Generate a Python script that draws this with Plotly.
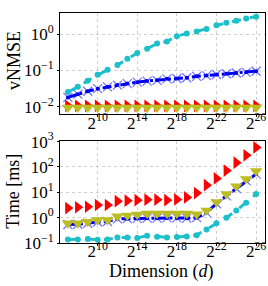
import numpy as np
import plotly.graph_objects as go

exps = list(range(7, 27))
dims = [2 ** e for e in exps]

# vNMSE (log10 values)
vnmse_cyan_log = [-1.59, -1.45, -1.28, -1.12, -0.98, -0.85, -0.68, -0.52, -0.40, -0.26,
                  -0.20, -0.06, 0.02, 0.07, 0.14, 0.24, 0.31, 0.37, 0.43, 0.48]
vnmse_blue_log = [-1.74, -1.65, -1.57, -1.50, -1.45, -1.40, -1.36, -1.32, -1.29, -1.27,
                  -1.23, -1.22, -1.20, -1.16, -1.14, -1.11, -1.09, -1.07, -1.05, -1.02]
vnmse_red_log = [-1.97] * 20
vnmse_olive_log = [-2.02] * 20

# Time [ms] (log10 values)
time_red_log = [0.38, 0.41, 0.43, 0.50, 0.50, 0.65, 0.67, 0.69, 0.71, 0.71,
                0.69, 0.72, 0.80, 0.97, 1.28, 1.55, 1.86, 2.17, 2.46, 2.77]
time_olive_log = [-0.22, -0.22, -0.16, -0.09, -0.09, 0.06, 0.09, 0.12, 0.16, 0.16,
                  0.16, 0.16, 0.16, 0.13, 0.28, 0.62, 0.93, 1.24, 1.53, 1.84]
time_blue_log = [-0.27, -0.26, -0.22, -0.17, -0.15, -0.05, -0.04, -0.03, -0.02, -0.02,
                 -0.01, -0.01, -0.02, 0.00, 0.20, 0.55, 0.86, 1.15, 1.45, 1.72]
time_cyan_log = [-0.86, -0.86, -0.84, -0.87, -0.86, -0.78, -0.78, -0.80, -0.71, -0.75,
                 -0.78, -0.76, -0.74, -0.69, -0.47, -0.22, 0.00, 0.28, 0.59, 0.93]

x_tick_exps = [10, 14, 18, 22, 26]
y1_tick_exps = [-2, -1, 0]
y2_tick_exps = [-1, 0, 1, 2, 3]

def p(v):
    return [10 ** a for a in v]

CYAN = "#1cbfca"
BLUE = "#0000ee"
LBLUE = "#6f6fff"
RED = "#ff0000"
OLIVE = "#bcbd22"

fig = go.Figure()

def add_panel(yax, xax, cyan, blue, red, olive):
    kw = dict(xaxis=xax, yaxis=yax, showlegend=False)
    fig.add_trace(go.Scatter(x=dims, y=p(cyan), mode="lines+markers",
                             line=dict(color=CYAN, width=3, dash="dash"),
                             marker=dict(color=CYAN, size=6, symbol="circle"), **kw))
    fig.add_trace(go.Scatter(x=dims, y=p(blue), mode="markers",
                             marker=dict(color=LBLUE, size=9, symbol="x-thin-open",
                                         line=dict(color=LBLUE, width=1.2)), **kw))
    fig.add_trace(go.Scatter(x=dims, y=p(blue), mode="lines+markers",
                             line=dict(color=BLUE, width=3, dash="dashdot"),
                             marker=dict(color=BLUE, size=4, symbol="circle"), **kw))
    fig.add_trace(go.Scatter(x=dims, y=p(red), mode="markers",
                             marker=dict(color=RED, size=11, symbol="triangle-right"), **kw))
    fig.add_trace(go.Scatter(x=dims, y=p(olive), mode="markers",
                             marker=dict(color=OLIVE, size=11, symbol="triangle-down"), **kw))

add_panel("y", "x", vnmse_cyan_log, vnmse_blue_log, vnmse_red_log, vnmse_olive_log)
add_panel("y2", "x2", time_cyan_log, time_blue_log, time_red_log, time_olive_log)

FONT = "Liberation Serif"
xr = [6.2 * np.log10(2), 26.9 * np.log10(2)]
common = dict(showgrid=True, gridcolor="#d0d0d0", griddash="dot", gridwidth=1,
              showline=True, linecolor="black", linewidth=1, mirror=True,
              ticks="outside", ticklen=2, tickcolor="black",
              tickfont=dict(family=FONT, size=17, color="black"), zeroline=False)
xcommon = dict(type="log", range=xr, tickvals=[2 ** e for e in x_tick_exps],
               ticktext=[f"2<sup>{e}</sup>" for e in x_tick_exps],
               ticklabelstandoff=-9, **common)

def yticks(ex):
    return dict(tickvals=[10 ** e for e in ex],
                ticktext=[f"10<sup>{str(e).replace('-', '−')}</sup>" for e in ex])

H, T, B = 286, 2, 43
PH = H - T - B

def ypaper(px):
    return (H - B - px) / PH

fig.update_layout(
    width=268, height=H,
    margin=dict(l=60, r=2, t=T, b=B),
    paper_bgcolor="white", plot_bgcolor="white",
    font=dict(family=FONT, size=17, color="black"),
    xaxis=dict(**xcommon, domain=[0, 1], anchor="y"),
    yaxis=dict(type="log", **common, **yticks(y1_tick_exps), domain=[ypaper(108), 1],
               range=[-2.2, 0.58], anchor="x"),
    xaxis2=dict(**xcommon, domain=[0, 1], anchor="y2"),
    yaxis2=dict(type="log", **common, **yticks(y2_tick_exps), domain=[0, ypaper(136)],
                range=[-1.0, 3.03], anchor="x2"),
    annotations=[
        dict(text="vNMSE", xref="paper", yref="paper", x=-60 / 206 + 13 / 206, y=ypaper(52),
             xanchor="center", yanchor="middle", textangle=-90, showarrow=False,
             font=dict(family=FONT, size=18)),
        dict(text="Time [ms]", xref="paper", yref="paper", x=-60 / 206 + 13 / 206, y=ypaper(189),
             xanchor="center", yanchor="middle", textangle=-90, showarrow=False,
             font=dict(family=FONT, size=18)),
        dict(text="Dimension (<i>d</i>)", xref="paper", yref="paper", x=(162 - 60) / 206,
             y=ypaper(273), xanchor="center", yanchor="middle", showarrow=False,
             font=dict(family=FONT, size=18)),
    ],
)

fig.write_html("out.html", config={"displayModeBar": False},
               post_script="document.body.style.margin='0';document.body.style.padding='0';document.body.style.overflow='hidden';")
